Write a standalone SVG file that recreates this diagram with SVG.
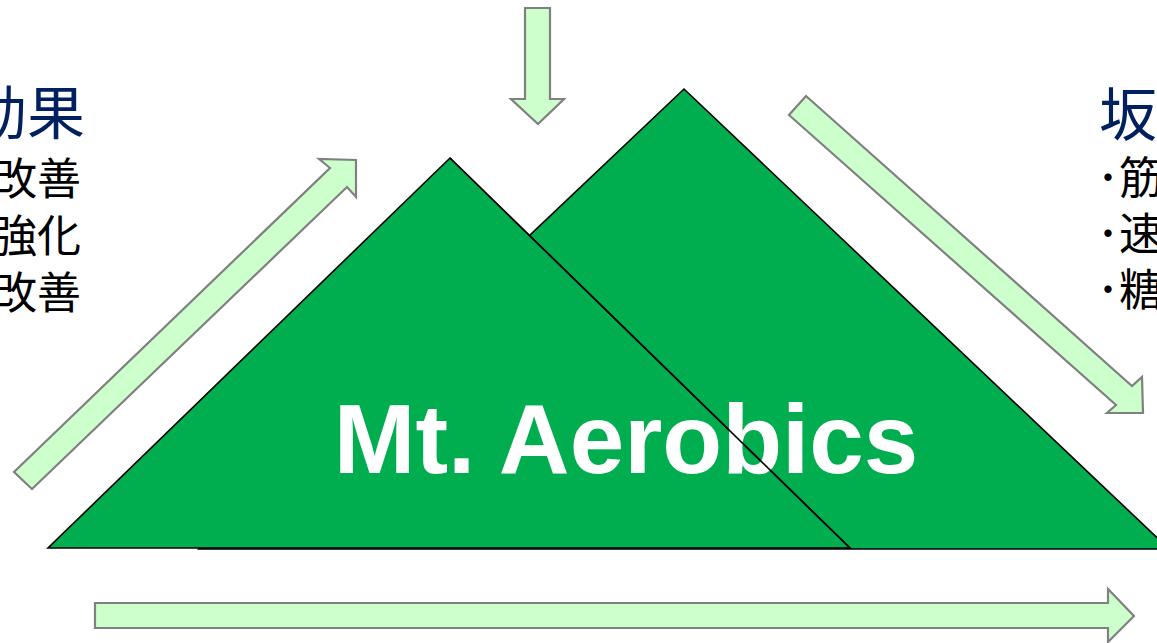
<svg xmlns="http://www.w3.org/2000/svg" width="1157" height="643" viewBox="0 0 1157 643">
  <style>
    .mtn { fill: #00AE50; stroke: #000000; stroke-width: 1.6; stroke-linejoin: miter; }
    .arrow { fill: #CCFFCC; stroke: #808080; stroke-width: 2.2; stroke-linejoin: miter; }
    .head { font-family: "Noto Sans CJK JP", "Liberation Sans", sans-serif; font-size: 58px; fill: #002060; }
    .item { font-family: "Noto Sans CJK JP", "Liberation Sans", sans-serif; font-size: 44px; fill: #000000; }
    .title { font-family: "Liberation Sans", Arial, sans-serif; font-weight: bold; font-size: 98px; fill: #FFFFFF; }
  </style>
  <rect width="1157" height="643" fill="#FFFFFF"/>

  <g id="mountain-right">
    <polygon class="mtn" points="684,89 1169,549 199,549"/>
  </g>
  <g id="mountain-left">
    <polygon class="mtn" points="450,158 850,548 48,548"/>
  </g>
  <g id="title">
    <text class="title" x="626" y="473" text-anchor="middle">Mt. Aerobics</text>
    <line x1="450" y1="158" x2="850" y2="548" stroke="#000000" stroke-width="1.6"/>
  </g>

  <g id="left-text">
    <text class="head" x="85" y="134" text-anchor="end">運動効果</text>
    <text class="item" x="81" y="195" text-anchor="end">改善</text>
    <text class="item" x="81" y="252" text-anchor="end">強化</text>
    <text class="item" x="81" y="309" text-anchor="end">改善</text>
  </g>

  <g id="right-text">
    <text class="head" x="1099" y="136">坂</text>
    <text class="item" x="1097" y="194">･筋</text>
    <text class="item" x="1097" y="250">･速</text>
    <text class="item" x="1097" y="306">･糖</text>
  </g>

  <g id="connectors">
    <polygon class="arrow" points="525,8 550,8 550,99 564,99 538,124 511,99 525,99"/>
    <polygon class="arrow" points="32,489 347,187 356,197 356,160 319,159 330,168 14,472"/>
    <polygon class="arrow" points="806,96 1132,386 1142,377 1143,413 1107,413 1116,405 789,115"/>
    <polygon class="arrow" points="95,603 1108,603 1108,589 1134,616 1108,642 1108,628 95,628"/>
  </g>
</svg>
